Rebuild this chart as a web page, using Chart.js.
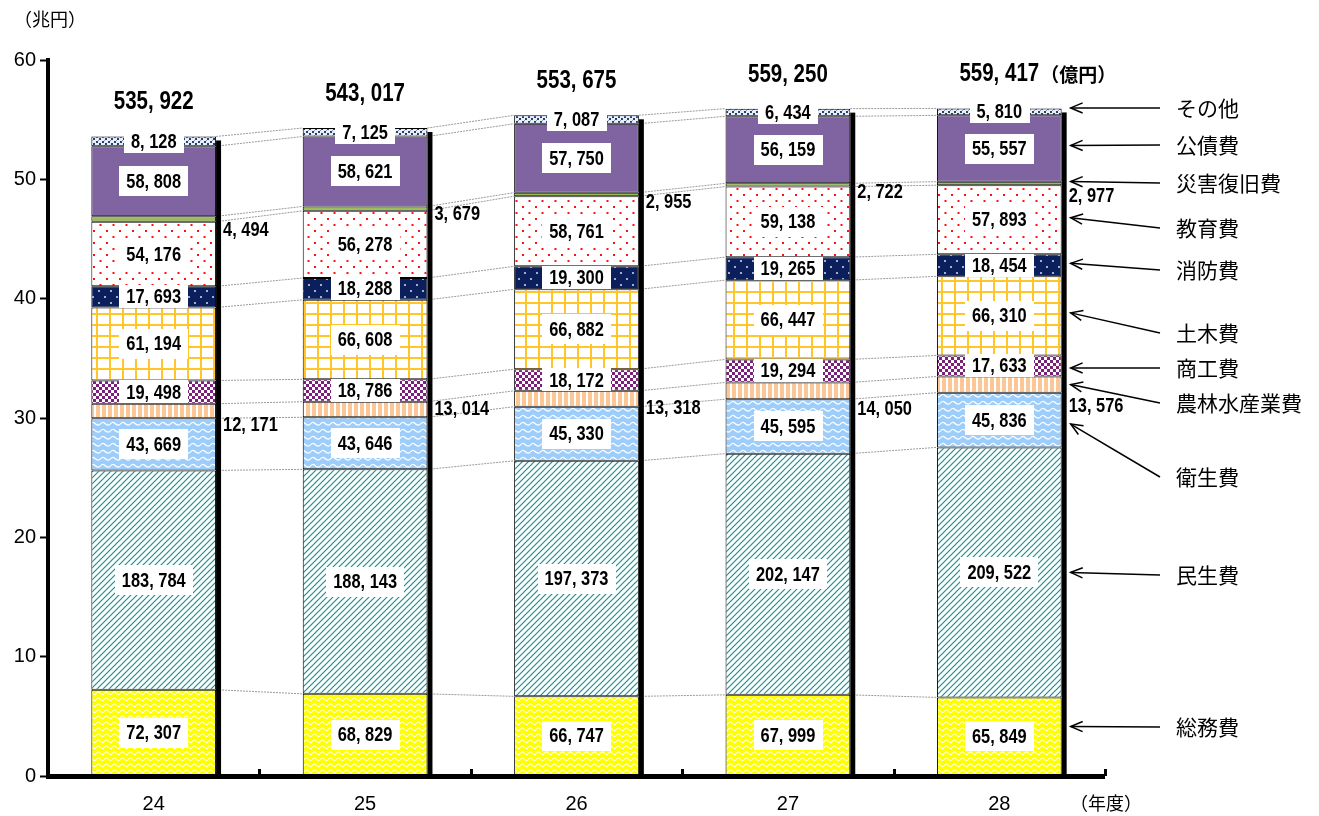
<!DOCTYPE html>
<html><head><meta charset="utf-8">
<script src="https://cdn.jsdelivr.net/npm/chart.js@4/dist/chart.umd.min.js"></script>
<style>html,body{margin:0;padding:0;background:#fff;}#wrap{position:relative;width:1319px;height:816px;}</style>
</head><body><div id="wrap"><canvas id="c" width="1319" height="816"></canvas></div>
<script>
// ---- data (億円) ----
const categories = ['24', '25', '26', '27', '28'];
const seriesNames = ['総務費','民生費','衛生費','農林水産業費','商工費','土木費','消防費','教育費','災害復旧費','公債費','その他'];
const somu    = [72307, 68829, 66747, 67999, 65849];
const minsei  = [183784, 188143, 197373, 202147, 209522];
const eisei   = [43669, 43646, 45330, 45595, 45836];
const norin   = [12171, 13014, 13318, 14050, 13576];
const shoko   = [19498, 18786, 18172, 19294, 17633];
const doboku  = [61194, 66608, 66882, 66447, 66310];
const shobo   = [17693, 18288, 19300, 19265, 18454];
const kyoiku  = [54176, 56278, 58761, 59138, 57893];
const saigai  = [4494, 3679, 2955, 2722, 2977];
const kosai   = [58808, 58621, 57750, 56159, 55557];
const sonota  = [8128, 7125, 7087, 6434, 5810];
const totals  = [535922, 543017, 553675, 559250, 559417];
const yTicks  = [0, 10, 20, 30, 40, 50, 60];
const seriesValues = [somu, minsei, eisei, norin, shoko, doboku, shobo, kyoiku, saigai, kosai, sonota];

// ---- patterns ----
function pat(w, h, fn) {
  const c = document.createElement('canvas'); c.width = w; c.height = h;
  const g = c.getContext('2d'); fn(g, w, h);
  return document.getElementById('c').getContext('2d').createPattern(c, 'repeat');
}
function dot(g, x, y, r, col) { g.fillStyle = col; g.fillRect(x - r, y - r, 2 * r, 2 * r); }
const fills = [
  pat(8, 6, (g, w, h) => { g.fillStyle = '#FFFF00'; g.fillRect(0, 0, w, h); g.strokeStyle = '#fff'; g.lineWidth = 1.2;
    g.beginPath(); g.moveTo(0, 4); g.quadraticCurveTo(2, 0.5, 4, 3); g.quadraticCurveTo(6, 5.5, 8, 4); g.stroke(); }),
  pat(6, 6, (g, w, h) => { g.fillStyle = '#fff'; g.fillRect(0, 0, w, h); g.strokeStyle = '#1E9090'; g.lineWidth = 1.2;
    g.beginPath(); g.moveTo(-1, 7); g.lineTo(7, -1); g.moveTo(-4, 4); g.lineTo(4, -4); g.moveTo(2, 10); g.lineTo(10, 2); g.stroke(); }),
  pat(10, 7, (g, w, h) => { g.fillStyle = '#9DCDFB'; g.fillRect(0, 0, w, h); g.strokeStyle = '#fff'; g.lineWidth = 1.2;
    g.beginPath(); g.moveTo(0, 4.5); g.quadraticCurveTo(2.5, 1, 5, 3.5); g.quadraticCurveTo(7.5, 6, 10, 4.5); g.stroke(); }),
  pat(6, 6, (g, w, h) => { g.fillStyle = '#fff'; g.fillRect(0, 0, w, h); g.fillStyle = '#FCC797'; g.fillRect(0, 0, 4, h); }),
  pat(6, 6, (g, w, h) => { g.fillStyle = '#fff'; g.fillRect(0, 0, w, h); g.fillStyle = '#7A1F7A'; g.fillRect(0, 0, 3, 3); g.fillRect(3, 3, 3, 3); }),
  pat(13, 11, (g, w, h) => { g.fillStyle = '#fff'; g.fillRect(0, 0, w, h); g.fillStyle = '#FFC529'; g.fillRect(5, 0, 2, h); g.fillRect(0, 5, w, 2); }),
  pat(12, 12, (g, w, h) => { g.fillStyle = '#0A1F5C'; g.fillRect(0, 0, w, h); dot(g, 3, 3, 0.8, '#fff'); dot(g, 9, 9, 0.8, '#fff'); }),
  pat(13, 12, (g, w, h) => { g.fillStyle = '#fff'; g.fillRect(0, 0, w, h); dot(g, 3, 3, 1, '#FF1010'); dot(g, 9.5, 9, 1, '#FF1010'); }),
  '#9BBB59',
  '#8064A2',
  pat(6, 5, (g, w, h) => { g.fillStyle = '#E8EEF6'; g.fillRect(0, 0, w, h); g.fillStyle = '#2A3F6F'; g.fillRect(0, 1, 2, 2); g.fillRect(3, 3, 2, 2); g.fillStyle = '#8899BB'; g.fillRect(2, 0, 1, 1); }),
];

const numFont = '"Liberation Sans", Arial, sans-serif';
const jpFont = '"Noto Sans CJK JP","Noto Sans",sans-serif';
const NARROW = 0.82;
function fmt(v) { return v.toLocaleString('en-US').replace(/,/g, ', '); }
function narrowText(ctx, txt, x, y, align) {
  const w = ctx.measureText(txt).width * NARROW;
  const sx = align === 'center' ? x - w / 2 : x;
  ctx.save(); ctx.translate(sx, y); ctx.scale(NARROW, 1); ctx.textAlign = 'left'; ctx.fillText(txt, 0, 0); ctx.restore();
  return w;
}

const outsideIdx = { 3: [7, -8, 2, 10, 14], 8: [9, 4, 6, 6, 11] };
const annY = [727, 575, 477, 403, 368, 333, 270, 228, 183, 145, 108];
const annTipShift = [-10, 0, 4, 0, 2, -3, -2, -2, -2, -3, -4];

const deco = {
  id: 'deco',
  beforeDatasetsDraw(chart) {
    const ctx = chart.ctx;
    ctx.save();
    ctx.strokeStyle = '#9a9a9a'; ctx.lineWidth = 1; ctx.setLineDash([2, 1]);
    chart.data.datasets.forEach((ds, d) => {
      const els = chart.getDatasetMeta(d).data;
      for (let i = 0; i < els.length - 1; i++) {
        const a = els[i], b = els[i + 1];
        ctx.beginPath();
        ctx.moveTo(a.x + a.width / 2, a.y);
        ctx.lineTo(b.x - b.width / 2, b.y);
        ctx.stroke();
      }
    });
    ctx.restore();
  },
  afterDatasetsDraw(chart) {
    const ctx = chart.ctx, ys = chart.scales.y, ca = chart.chartArea;
    const n = chart.data.datasets.length;
    const topEls = chart.getDatasetMeta(n - 1).data;
    const zero = ys.getPixelForValue(0);
    ctx.save();
    // shadows
    ctx.fillStyle = '#000';
    topEls.forEach(el => { const r = el.x + el.width / 2; ctx.fillRect(r, el.y + 4, 5, zero - el.y - 4); });
    // x axis
    ctx.fillRect(ca.left - 2, zero - 2, ca.right - ca.left + 2, 5);
    const step = (ca.right - ca.left) / categories.length;
    for (let i = 1; i <= categories.length; i++) {
      const x = Math.round(ca.left + step * i);
      ctx.fillRect(x - 1, zero - 7, 3, 7);
    }
    // value labels
    ctx.textBaseline = 'middle';
    chart.data.datasets.forEach((ds, d) => {
      chart.getDatasetMeta(d).data.forEach((el, i) => {
        const v = seriesValues[d][i];
        const txt = fmt(v);
        ctx.font = 'bold 20px ' + numFont;
        if (outsideIdx[d]) {
          ctx.fillStyle = '#000';
          narrowText(ctx, txt, el.x + el.width / 2 + 7, el.base + outsideIdx[d][i], 'left');
          return;
        }
        const cy = (el.y + el.base) / 2;
        const segH = el.base - el.y;
        const tw = ctx.measureText(txt).width * NARROW;
        const bh = Math.max(23, Math.min(30, segH));
        ctx.fillStyle = '#fff';
        ctx.fillRect(Math.round(el.x - tw / 2 - 7), Math.round(cy - bh / 2), Math.round(tw + 14), Math.round(bh));
        ctx.fillStyle = '#000';
        narrowText(ctx, txt, el.x, cy + 1, 'center');
      });
    });
    // totals
    topEls.forEach((el, i) => {
      const txt = fmt(totals[i]);
      ctx.fillStyle = '#000';
      ctx.font = 'bold 25px ' + numFont;
      const w = narrowText(ctx, txt, el.x, el.y - 34, 'center');
      if (i === topEls.length - 1) {
        ctx.textAlign = 'left';
        ctx.font = 'bold 19px ' + jpFont;
        ctx.fillText('（億円）', el.x + w / 2 + 1, el.y - 34);
      }
    });
    // annotations
    const last = categories.length - 1;
    ctx.font = '21px ' + jpFont;
    ctx.textAlign = 'left';
    ctx.strokeStyle = '#000'; ctx.lineWidth = 1.5; ctx.setLineDash([]);
    seriesNames.forEach((name, d) => {
      const el = chart.getDatasetMeta(d).data[last];
      const ty = (el.y + el.base) / 2 + annTipShift[d];
      const tx = el.x + el.width / 2 + 9;
      const sx = 1160, sy = annY[d];
      ctx.fillStyle = '#000';
      ctx.fillText(name, 1176, sy);
      ctx.beginPath(); ctx.moveTo(sx, sy); ctx.lineTo(tx, ty); ctx.stroke();
      const ang = Math.atan2(sy - ty, sx - tx);
      ctx.beginPath();
      ctx.moveTo(tx + 13 * Math.cos(ang + 0.4), ty + 13 * Math.sin(ang + 0.4));
      ctx.lineTo(tx, ty);
      ctx.lineTo(tx + 13 * Math.cos(ang - 0.4), ty + 13 * Math.sin(ang - 0.4));
      ctx.stroke();
    });
    // unit labels
    ctx.font = '18px ' + jpFont;
    ctx.textAlign = 'left';
    ctx.fillText('（兆円）', 14, 19);
    ctx.textAlign = 'center';
    ctx.fillText('（年度）', 1106, 803);
    ctx.restore();
  }
};

new Chart(document.getElementById('c'), {
  type: 'bar',
  data: {
    labels: categories,
    datasets: seriesNames.map((name, d) => ({
      label: name,
      data: seriesValues[d].map(v => v / 10000),
      backgroundColor: fills[d],
      borderColor: '#000',
      borderWidth: 1,
      borderSkipped: false,
      barPercentage: 0.59,
      categoryPercentage: 1.0,
    }))
  },
  options: {
    responsive: false,
    animation: false,
    layout: { padding: { left: 0, right: 214, top: 60, bottom: 0 } },
    plugins: { legend: { display: false }, tooltip: { enabled: false } },
    scales: {
      x: {
        stacked: true,
        grid: { display: false },
        border: { display: false },
        ticks: { color: '#000', font: { family: numFont, size: 20 }, padding: 8 },
        afterFit(s) { s.height = 40; }
      },
      y: {
        stacked: true,
        min: 0, max: 60,
        afterBuildTicks(s) { s.ticks = yTicks.map(v => ({ value: v })); },
        grid: { drawOnChartArea: false, tickLength: 8, tickWidth: 2, color: '#000' },
        border: { display: true, width: 4, color: '#000' },
        ticks: { color: '#000', font: { family: numFont, size: 20 }, padding: 4 },
        afterFit(s) { s.width = 48; }
      }
    }
  },
  plugins: [deco]
});
</script></body></html>
